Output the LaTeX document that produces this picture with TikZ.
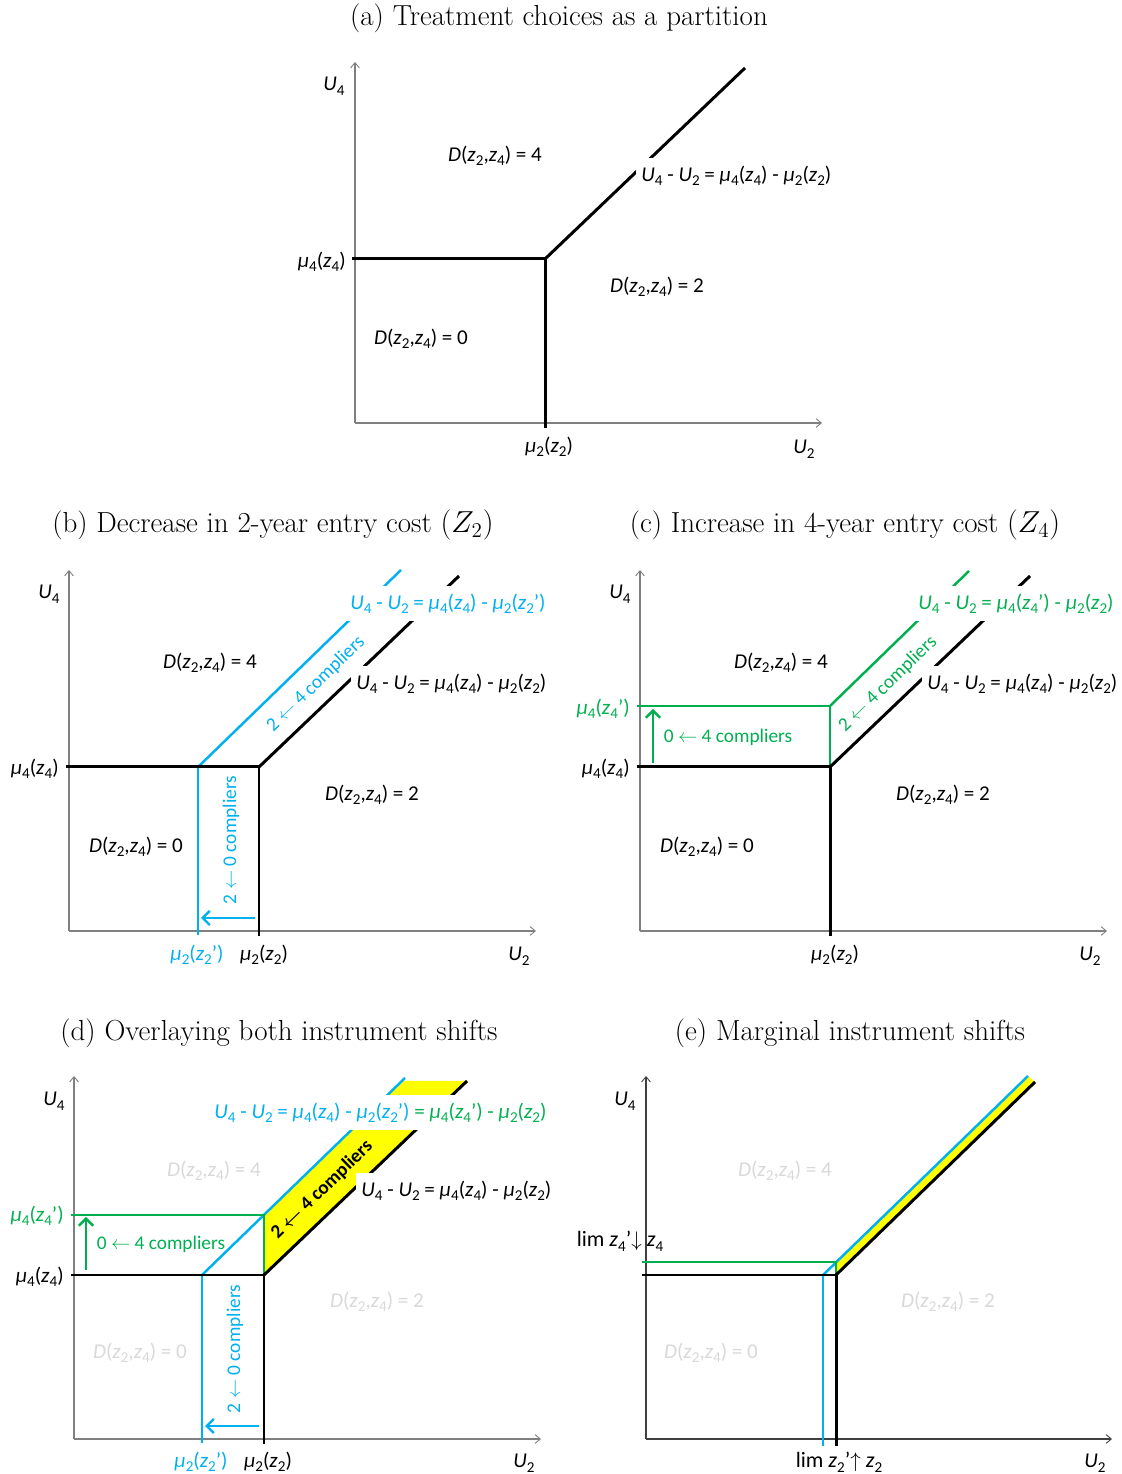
\documentclass[tikz,border=0pt]{standalone}
\usepackage{amsmath}
\usepackage{fontspec}
\newfontfamily\carl{Carlito}
\usetikzlibrary{arrows.meta}
\definecolor{ppblue}{HTML}{00B0F0}
\definecolor{ppgreen}{HTML}{00B050}
\definecolor{ppyellow}{HTML}{FFFF00}
\definecolor{lightlab}{HTML}{D9D9D9}
\definecolor{axgray}{HTML}{808080}
\newcommand\sbs[1]{\raisebox{-2.6pt}{\fontsize{8.6}{8}\selectfont #1}}
\newcommand\zz[1]{\textit{z}\sbs{#1}}
\newcommand\zp[1]{\textit{z}\sbs{#1}’}
\newcommand\mmu[1]{\textit{μ}\sbs{#1}}
\newcommand\UU[1]{\textit{U}\sbs{#1}}
\newcommand\Dlab[1]{\textit{D}(\zz{2},\zz{4}) = #1}
\tikzset{
  axis/.style={draw=axgray, line width=0.6pt, -{Straight Barb[length=3pt,width=5pt,line width=0.5pt]}},
  blk/.style={draw=black, line width=1.7pt},
  bl/.style={draw=ppblue, line width=1.4pt},
  gr/.style={draw=ppgreen, line width=1.4pt},
  lab/.style={font=\carl\fontsize{12}{14}\selectfont, inner sep=0pt},
  cmptext/.style={font=\carl\fontsize{11}{13}\selectfont, inner sep=0pt},
  boxlab/.style={lab, fill=white, anchor=west, minimum height=0.7cm, inner xsep=0.1cm},
  ttl/.style={font=\fontsize{16.5}{19}\selectfont, inner sep=0pt},
  cmp/.style={-{Straight Barb[length=4pt,width=8pt]}, line width=1.4pt},
  yel/.style={fill=ppyellow, draw=none}
}
\begin{document}
\begin{tikzpicture}[x=0.02cm, y=0.02cm]
\useasboundingbox[fill=white] (0,0) rectangle (1122,1474);

% titles
\node[ttl] (ta) at (559,1456) {(a) Treatment choices as a partition};
\node[ttl] (tb) at (273,949) {(b) Decrease in 2-year entry cost $(Z_2)$};
\node[ttl] (tc) at (845,949) {(c) Increase in 4-year entry cost $(Z_4)$};
\node[ttl] (td) at (279,441) {(d) Overlaying both instrument shifts};
\node[ttl] (te) at (850,441) {(e) Marginal instrument shifts};

% ---------------- panel (a)
\begin{scope}[shift={(355,1051)}]
\draw[axis] (0,0) -- (467,0);
\draw[axis] (0,0) -- (0,361);
\draw[blk] (-3,164) -- (190,164) -- (190,-5);
\draw[blk] (190,164) -- (390,355);
\node[lab] (a-u4) at (-21,337) {\UU{4}};
\node[lab, anchor=east] (a-m4) at (-9,161) {\mmu{4}(\zz{4})};
\node[lab] (a-d4) at (140,267) {\Dlab{4}};
\node[lab] (a-d2) at (302,136) {\Dlab{2}};
\node[lab] (a-d0) at (66,84) {\Dlab{0}};
\node[boxlab] (a-eq) at (281,247) {\UU{4} - \UU{2} = \mmu{4}(\zz{4}) - \mmu{2}(\zz{2})};
\node[lab] (a-m2) at (194,-24) {\mmu{2}(\zz{2})};
\node[lab] (a-u2) at (449,-26) {\UU{2}};
\end{scope}

% ---------------- panel (b)
\begin{scope}[shift={(69,543)}]
\draw[axis] (0,0) -- (467,0);
\draw[axis] (0,0) -- (0,361);
\draw[bl] (129,164) -- (129,-4);
\draw[bl] (129,164) -- (332,361);
\draw[blk] (-3,164) -- (190,164) -- (190,-5);
\draw[blk] (190,164) -- (390,355);
\draw[cmp, ppblue] (186,13) -- (132,13);
\node[lab] (b-u4) at (-20,337) {\UU{4}};
\node[lab, anchor=east] (b-m4) at (-10,162) {\mmu{4}(\zz{4})};
\node[lab] (b-d4) at (141,268) {\Dlab{4}};
\node[lab] (b-d2) at (303,136) {\Dlab{2}};
\node[lab] (b-d0) at (67,84) {\Dlab{0}};
\node[boxlab, text=ppblue] (b-eqb) at (276,327) {\UU{4} - \UU{2} = \mmu{4}(\zz{4}) - \mmu{2}(\zp{2})};
\node[boxlab] (b-eq) at (282,247) {\UU{4} - \UU{2} = \mmu{4}(\zz{4}) - \mmu{2}(\zz{2})};
\node[cmptext, text=ppblue, rotate=44] (b-c24) at (247,247) {2 $\leftarrow$ 4 compliers};
\node[cmptext, text=ppblue, rotate=90] (b-c20) at (162,91) {2 $\leftarrow$ 0 compliers};
\node[lab, text=ppblue] (b-m2p) at (128,-24) {\mmu{2}(\zp{2})};
\node[lab] (b-m2) at (195,-24) {\mmu{2}(\zz{2})};
\node[lab] (b-u2) at (450,-25) {\UU{2}};
\end{scope}

% ---------------- panel (c)
\begin{scope}[shift={(640,543)}]
\draw[axis] (0,0) -- (467,0);
\draw[axis] (0,0) -- (0,361);
\draw[gr] (-3,225) -- (190,225) -- (190,164);
\draw[gr] (190,225) -- (329,360);
\draw[blk] (-3,164) -- (190,164) -- (190,-5);
\draw[blk] (190,164) -- (390,355);
\draw[cmp, ppgreen] (13,168) -- (13,222);
\node[lab] (c-u4) at (-20,337) {\UU{4}};
\node[lab, anchor=east, text=ppgreen] (c-m4p) at (-10,222) {\mmu{4}(\zp{4})};
\node[lab, anchor=east] (c-m4) at (-10,162) {\mmu{4}(\zz{4})};
\node[lab] (c-d4) at (141,268) {\Dlab{4}};
\node[lab] (c-d2) at (303,136) {\Dlab{2}};
\node[lab] (c-d0) at (67,84) {\Dlab{0}};
\node[boxlab, text=ppgreen] (c-eqg) at (273,327) {\UU{4} - \UU{2} = \mmu{4}(\zp{4}) - \mmu{2}(\zz{2})};
\node[boxlab] (c-eq) at (282,247) {\UU{4} - \UU{2} = \mmu{4}(\zz{4}) - \mmu{2}(\zz{2})};
\node[cmptext, text=ppgreen, rotate=44] (c-c24) at (248,247) {2 $\leftarrow$ 4 compliers};
\node[cmptext, text=ppgreen] (c-c04) at (88,194) {0 $\leftarrow$ 4 compliers};
\node[lab] (c-m2) at (195,-24) {\mmu{2}(\zz{2})};
\node[lab] (c-u2) at (450,-25) {\UU{2}};
\end{scope}

% ---------------- panel (d)
\begin{scope}[shift={(74,35)}]
\draw[axis] (0,0) -- (467,0);
\draw[axis] (0,0) -- (0,363);
\fill[yel] (190,224.1) -- (190,164) -- (393,358) -- (328,358) -- cycle;
\draw[bl] (128,164) -- (128,-4);
\draw[bl] (128,164) -- (331,361);
\draw[gr] (-3,224.1) -- (190,224.1) -- (190,164);
\draw[blk] (-3,164) -- (190,164) -- (190,-5);
\draw[blk] (190,164) -- (393,358);
\draw[cmp, ppgreen] (12,169) -- (12,222);
\draw[cmp, ppblue] (185,13) -- (131,13);
\node[lab] (d-u4) at (-20,338) {\UU{4}};
\node[lab, anchor=east, text=ppgreen] (d-m4p) at (-10,223) {\mmu{4}(\zp{4})};
\node[lab, anchor=east] (d-m4) at (-10,162) {\mmu{4}(\zz{4})};
\node[lab, text=lightlab] (d-d4) at (140,268) {\Dlab{4}};
\node[lab, text=lightlab] (d-d2) at (303,137) {\Dlab{2}};
\node[lab, text=lightlab] (d-d0) at (66,86) {\Dlab{0}};
\node[boxlab] (d-eqbg) at (135,326) {{\color{ppblue}\UU{4} - \UU{2} = \mmu{4}(\zz{4}) - \mmu{2}(\zp{2})} {\color{ppgreen}= \mmu{4}(\zp{4}) - \mmu{2}(\zz{2})}};
\node[boxlab] (d-eq) at (282,248) {\UU{4} - \UU{2} = \mmu{4}(\zz{4}) - \mmu{2}(\zz{2})};
\node[cmptext, rotate=44, font=\carl\bfseries\fontsize{11}{13}\selectfont] (d-c24) at (248,249) {2 $\boldsymbol{\leftarrow}$ 4 compliers};
\node[cmptext, text=ppgreen] (d-c04) at (87,195) {0 $\leftarrow$ 4 compliers};
\node[cmptext, text=ppblue, rotate=90] (d-c20) at (161,90) {2 $\leftarrow$ 0 compliers};
\node[lab, text=ppblue] (d-m2p) at (127,-23) {\mmu{2}(\zp{2})};
\node[lab] (d-m2) at (194,-23) {\mmu{2}(\zz{2})};
\node[lab] (d-u2) at (450,-24) {\UU{2}};
\end{scope}

% ---------------- panel (e)
\begin{scope}[shift={(646,35)}]
\draw[axis, draw=black!75] (0,0) -- (466,0);
\draw[axis, draw=black!75] (0,0) -- (0,363);
\fill[yel] (190,176.6) -- (190,164) -- (389,357) -- (382,363) -- cycle;
\draw[bl] (177,164) -- (177,-7);
\draw[bl] (177,164) -- (382,363);
\draw[gr] (-4,177) -- (190,177) -- (190,164);
\draw[blk] (-4,164) -- (190,164) -- (190,-7);
\draw[blk] (190,164) -- (389,357);
\node[lab] (e-u4) at (-21,338) {\UU{4}};
\node[lab, text=lightlab] (e-d4) at (139,268) {\Dlab{4}};
\node[lab, text=lightlab] (e-d2) at (302,137) {\Dlab{2}};
\node[lab, text=lightlab] (e-d0) at (65,86) {\Dlab{0}};
\node[lab, font=\carl\fontsize{12.5}{14}\selectfont] (e-lim4) at (-26,198) {lim \zp{4}$\downarrow$ \zz{4}};
\node[lab, font=\carl\fontsize{12.5}{14}\selectfont] (e-lim2) at (193,-23) {lim \zp{2}$\uparrow$ \zz{2}};
\node[lab] (e-u2) at (449,-24) {\UU{2}};
\end{scope}
\end{tikzpicture}
\end{document}
